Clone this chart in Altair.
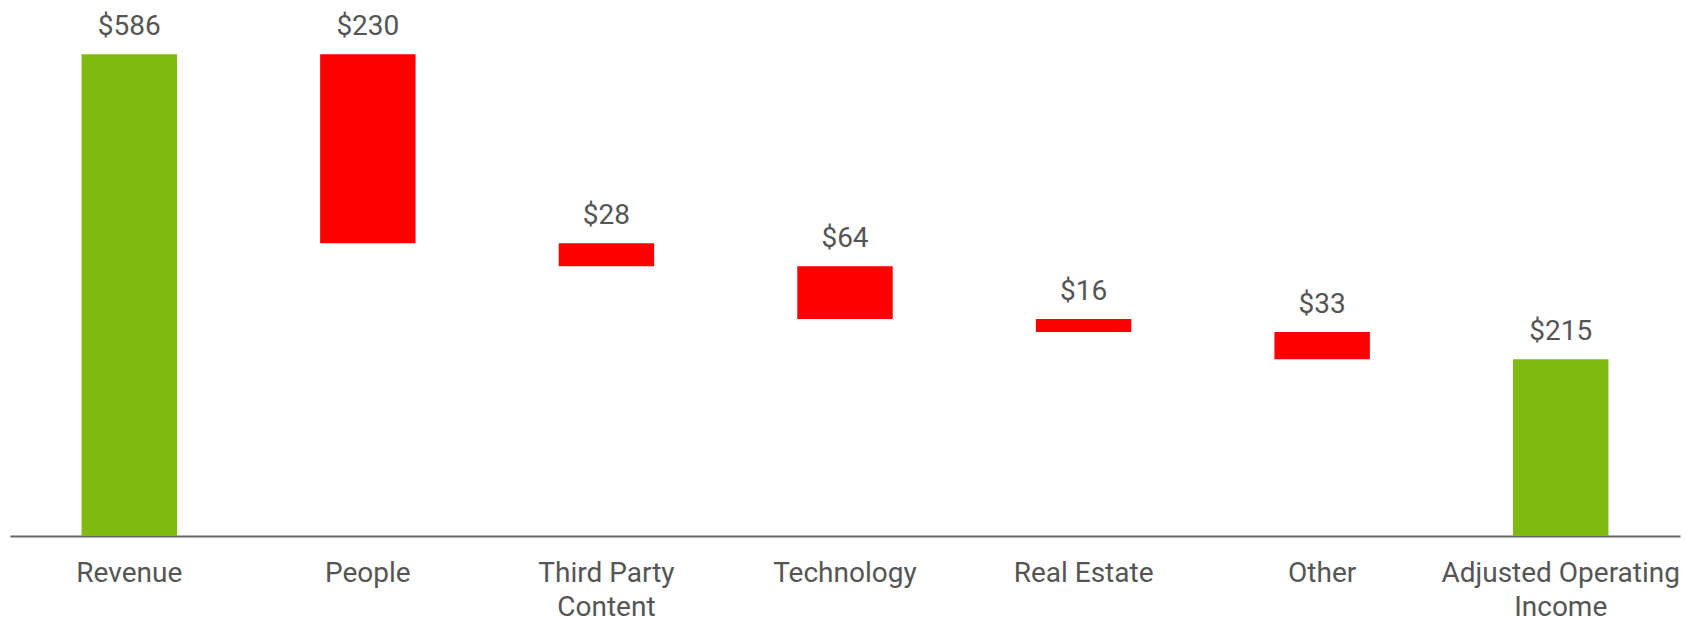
import altair as alt
import pandas as pd

categories = ["Revenue", "People", "Third Party Content", "Technology",
              "Real Estate", "Other", "Adjusted Operating Income"]
amounts = [586, 230, 28, 64, 16, 33, 215]
kinds = ["total", "cost", "cost", "cost", "cost", "cost", "total"]

rows = []
running = 0
for c, a, k in zip(categories, amounts, kinds):
    if k == "total":
        start, end = 0, a
        running = a
    else:
        start, end = running, running - a
        running = end
    rows.append({"category": c, "amount": a, "kind": k,
                 "start": start, "end": end, "top": max(start, end),
                 "label": f"${a}"})
df = pd.DataFrame(rows)

label_expr = ("datum.label == 'Third Party Content' ? ['Third Party', 'Content'] : "
              "datum.label == 'Adjusted Operating Income' ? ['Adjusted Operating', 'Income'] : datum.label")

x = alt.X("category:N", sort=categories, title=None,
          scale=alt.Scale(paddingInner=0.6, paddingOuter=0.3),
          axis=alt.Axis(labelAngle=0, labelExpr=label_expr, ticks=False,
                        domainColor="#666666", domainWidth=2, labelLimit=0,
                        labelFont="Roboto", labelFontSize=28, labelColor="#555555",
                        labelPadding=23, labelLineHeight=34, labelBaseline="top"))
y = alt.Y("start:Q", scale=alt.Scale(domain=[0, 652], nice=False), axis=None)

bars = alt.Chart(df).mark_bar().encode(
    x=x, y=y, y2="end:Q",
    color=alt.Color("kind:N", scale=alt.Scale(domain=["total", "cost"],
                                              range=["#7FBA0E", "#FF0000"]), legend=None),
)

labels = alt.Chart(df).mark_text(font="Roboto", fontSize=28, color="#555555",
                                 baseline="alphabetic", dy=-19).encode(
    x=alt.X("category:N", sort=categories),
    y=alt.Y("top:Q"),
    text="label:N",
)

chart = (bars + labels).properties(
    width=1670, height=536,
    padding={"left": 10, "top": 0, "right": 5, "bottom": 0},
).configure_view(stroke=None)

chart.save("out.html", embed_options={"renderer": "svg", "actions": False})
